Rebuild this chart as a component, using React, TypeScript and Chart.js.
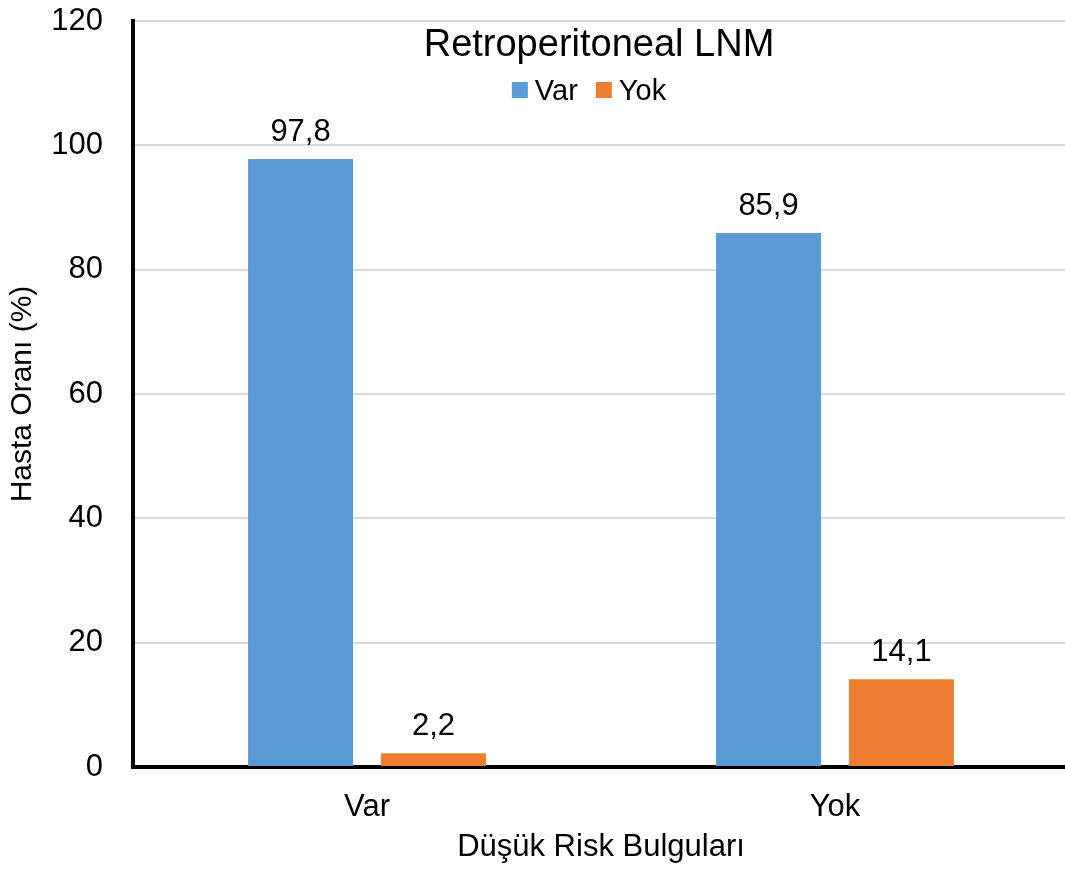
import React, { useEffect, useRef } from "react";
import { Chart, registerables } from "chart.js";

Chart.register(...registerables);

// Category labels (x axis) and series values, in percent
const categories = ["Var", "Yok"];
const seriesNames = ["Var", "Yok"];
const varValues = [97.8, 85.9];
const yokValues = [2.2, 14.1];
const seriesColors = ["#5B9BD5", "#ED7D31"];
const yTickValues = [0, 20, 40, 60, 80, 100, 120];

const chartTitle = "Retroperitoneal LNM";
const xTitle = "Düşük Risk Bulguları";
const yTitle = "Hasta Oranı (%)";

const FONT = "'Liberation Sans', Arial, sans-serif";

const formatValue = (v: number) => v.toFixed(1).replace(".", ",");

// Value labels above each bar
const valueLabelPlugin = {
  id: "valueLabels",
  afterDatasetsDraw(chart: any) {
    const ctx = chart.ctx;
    ctx.save();
    ctx.font = `31px ${FONT}`;
    ctx.fillStyle = "#000";
    ctx.textAlign = "center";
    ctx.textBaseline = "alphabetic";
    chart.data.datasets.forEach((ds: any, di: number) => {
      const meta = chart.getDatasetMeta(di);
      meta.data.forEach((bar: any, i: number) => {
        ctx.fillText(formatValue(ds.data[i]), bar.x, bar.y - 18);
      });
    });
    ctx.restore();
  },
};

// Title and legend drawn inside the top of the plot area
const headerPlugin = {
  id: "header",
  afterDraw(chart: any) {
    const ctx = chart.ctx;
    const cx = 598;
    ctx.save();
    ctx.fillStyle = "#000";
    ctx.textAlign = "center";
    ctx.textBaseline = "alphabetic";
    ctx.font = `38px ${FONT}`;
    ctx.fillText(chartTitle, cx + 1, 56);

    // legend
    ctx.font = `29px ${FONT}`;
    const box = 16;
    const boxGap = 7;
    const itemGap = 18;
    const items = chart.data.datasets.map((ds: any) => ({
      text: ds.label,
      color: ds.backgroundColor,
      w: box + boxGap + ctx.measureText(ds.label).width,
    }));
    const total =
      items.reduce((s: number, it: any) => s + it.w, 0) + itemGap * (items.length - 1);
    let x = cx - total / 2 - 9;
    ctx.textAlign = "left";
    items.forEach((it: any) => {
      ctx.fillStyle = it.color;
      ctx.fillRect(x, 82, box, box);
      ctx.fillStyle = "#000";
      ctx.fillText(it.text, x + box + boxGap, 100);
      x += it.w + itemGap;
    });
    ctx.restore();
  },
};

export default function App() {
  const canvasRef = useRef<HTMLCanvasElement | null>(null);

  useEffect(() => {
    if (!canvasRef.current) return;
    const chart = new Chart(canvasRef.current, {
      type: "bar",
      data: {
        labels: categories,
        datasets: [
          {
            label: seriesNames[0],
            data: varValues,
            backgroundColor: seriesColors[0],
            borderWidth: 0,
            categoryPercentage: 0.568,
            barPercentage: 0.79,
          },
          {
            label: seriesNames[1],
            data: yokValues,
            backgroundColor: seriesColors[1],
            borderWidth: 0,
            categoryPercentage: 0.568,
            barPercentage: 0.79,
          },
        ],
      },
      options: {
        responsive: false,
        animation: false,
        devicePixelRatio: 1,
        layout: { padding: { top: 21, right: 1, left: 0, bottom: 0 } },
        plugins: {
          legend: { display: false },
          title: { display: false },
          tooltip: { enabled: false },
        },
        scales: {
          x: {
            grid: { display: false },
            border: { display: true, color: "#000", width: 4 },
            ticks: {
              color: "#000",
              font: { family: FONT, size: 31 },
              padding: 14,
            },
            title: {
              display: true,
              text: xTitle,
              color: "#000",
              font: { family: FONT, size: 31 },
              padding: { top: 0, bottom: 4 },
            },
            afterFit: (scale: any) => {
              scale.height = 103;
              scale.paddingLeft = 0;
              scale.paddingRight = 0;
            },
          },
          y: {
            min: 0,
            max: 120,
            afterBuildTicks: (scale: any) => {
              scale.ticks = yTickValues.map((v) => ({ value: v }));
            },
            grid: { color: "#D9D9D9", lineWidth: 2, drawTicks: false },
            border: { display: true, color: "#000", width: 4 },
            ticks: {
              color: "#000",
              font: { family: FONT, size: 31 },
              padding: 30,
            },
            title: {
              display: true,
              text: yTitle,
              color: "#000",
              font: { family: FONT, size: 30 },
              padding: { top: 5, bottom: 0 },
            },
            afterFit: (scale: any) => {
              scale.width = 133;
              scale.paddingTop = 0;
              scale.paddingBottom = 0;
            },
          },
        },
      },
      plugins: [valueLabelPlugin, headerPlugin],
    });
    return () => chart.destroy();
  }, []);

  return (
    <div
      style={{
        position: "fixed",
        left: 0,
        top: 0,
        width: 1065,
        height: 870,
        overflow: "hidden",
        background: "#fff",
      }}
    >
      <canvas ref={canvasRef} width={1070} height={870} />
    </div>
  );
}
